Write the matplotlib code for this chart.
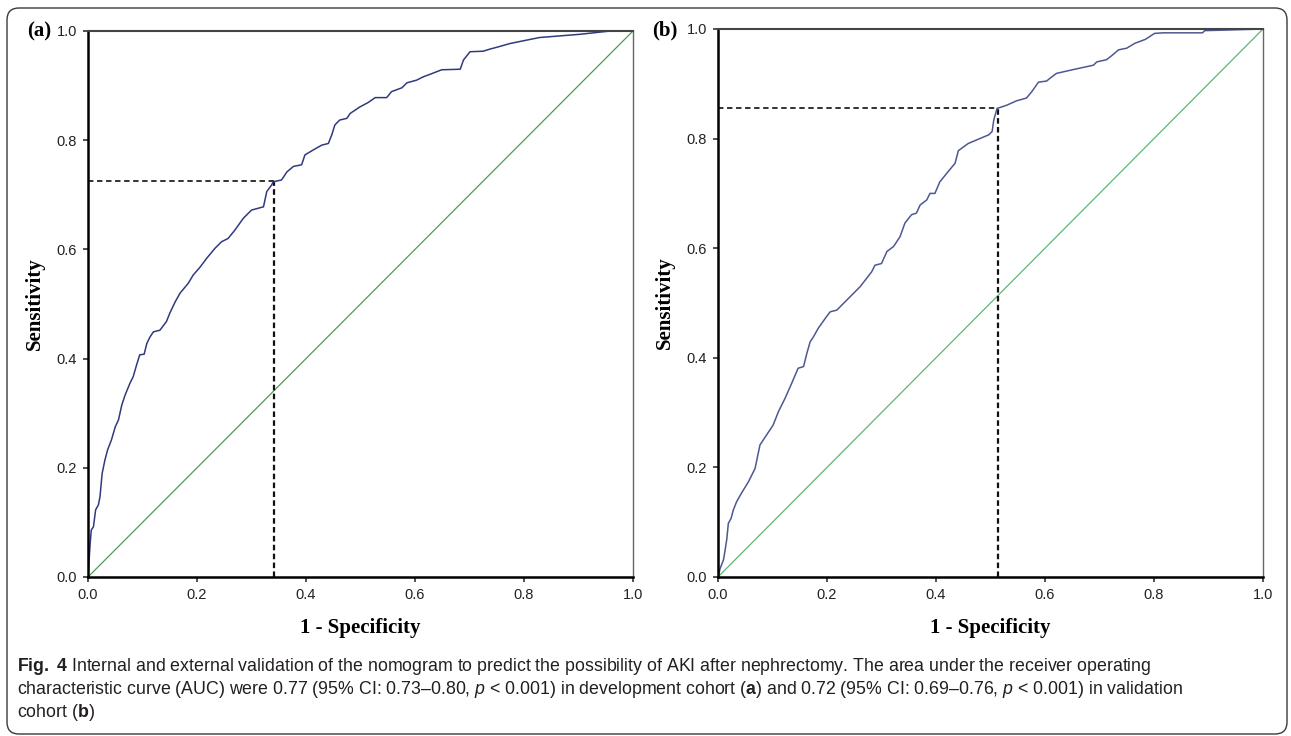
import matplotlib
matplotlib.use("Agg")
import matplotlib.pyplot as plt
from matplotlib.patches import FancyBboxPatch
from matplotlib.transforms import IdentityTransform

W, H = 1291, 736

# (a) development cohort
fpr_a = [0.0, 0.004, 0.006, 0.010, 0.014, 0.019, 0.022, 0.026, 0.031, 0.036, 0.043,
         0.050, 0.056, 0.062, 0.068, 0.077, 0.083, 0.089, 0.095, 0.103, 0.108, 0.114,
         0.120, 0.132, 0.144, 0.150, 0.160, 0.169, 0.184, 0.193, 0.206, 0.218, 0.233,
         0.245, 0.257, 0.270, 0.285, 0.300, 0.322, 0.328, 0.337, 0.340, 0.355, 0.365,
         0.377, 0.392, 0.398, 0.413, 0.429, 0.441, 0.447, 0.453, 0.462, 0.475, 0.481,
         0.499, 0.514, 0.527, 0.548, 0.557, 0.576, 0.585, 0.603, 0.615, 0.631, 0.649,
         0.683, 0.689, 0.701, 0.725, 0.738, 0.753, 0.774, 0.828, 0.903, 0.949, 0.960, 1.0]
tpr_a = [0.0, 0.062, 0.086, 0.092, 0.123, 0.132, 0.147, 0.190, 0.214, 0.233, 0.251,
         0.275, 0.288, 0.315, 0.333, 0.355, 0.367, 0.388, 0.407, 0.408, 0.428, 0.440,
         0.449, 0.452, 0.468, 0.483, 0.504, 0.520, 0.538, 0.553, 0.568, 0.584, 0.602,
         0.614, 0.620, 0.636, 0.657, 0.672, 0.678, 0.706, 0.718, 0.724, 0.727, 0.742,
         0.752, 0.755, 0.773, 0.782, 0.791, 0.794, 0.809, 0.828, 0.837, 0.840, 0.849,
         0.861, 0.869, 0.878, 0.878, 0.889, 0.896, 0.905, 0.910, 0.916, 0.922, 0.929,
         0.930, 0.947, 0.962, 0.963, 0.967, 0.971, 0.977, 0.988, 0.994, 0.999, 1.0, 1.0]

# (b) validation cohort
fpr_b = [0.0, 0.004, 0.010, 0.013, 0.016, 0.019, 0.024, 0.028, 0.034, 0.043, 0.056,
         0.068, 0.077, 0.089, 0.101, 0.111, 0.123, 0.135, 0.147, 0.157, 0.163, 0.169,
         0.175, 0.184, 0.199, 0.206, 0.218, 0.236, 0.261, 0.282, 0.288, 0.300, 0.310,
         0.322, 0.334, 0.343, 0.355, 0.364, 0.371, 0.383, 0.389, 0.398, 0.407, 0.420,
         0.435, 0.441, 0.459, 0.478, 0.497, 0.503, 0.506, 0.512, 0.530, 0.548, 0.566,
         0.576, 0.588, 0.603, 0.609, 0.621, 0.652, 0.689, 0.695, 0.713, 0.722, 0.735,
         0.750, 0.765, 0.784, 0.801, 0.817, 0.889, 0.893, 1.0]
tpr_b = [0.0, 0.016, 0.031, 0.049, 0.068, 0.098, 0.107, 0.122, 0.137, 0.153, 0.174,
         0.198, 0.241, 0.259, 0.277, 0.302, 0.326, 0.353, 0.381, 0.384, 0.408, 0.429,
         0.438, 0.454, 0.475, 0.484, 0.487, 0.505, 0.530, 0.557, 0.569, 0.572, 0.594,
         0.603, 0.621, 0.646, 0.661, 0.664, 0.679, 0.688, 0.700, 0.700, 0.721, 0.737,
         0.755, 0.778, 0.791, 0.799, 0.807, 0.813, 0.834, 0.855, 0.861, 0.869, 0.874,
         0.886, 0.903, 0.905, 0.910, 0.919, 0.926, 0.934, 0.940, 0.944, 0.951, 0.962,
         0.965, 0.974, 0.981, 0.992, 0.993, 0.993, 0.997, 1.0]

cutoff_a = (0.341, 0.725)
cutoff_b = (0.513, 0.856)

ticks = [0.0, 0.2, 0.4, 0.6, 0.8, 1.0]
tick_labels = ["0.0", "0.2", "0.4", "0.6", "0.8", "1.0"]

caption_lines = [
    r"$\mathbf{Fig.\ 4}$ Internal and external validation of the nomogram to predict the possibility of AKI after nephrectomy. The area under the receiver operating",
    r"characteristic curve (AUC) were 0.77 (95% CI: 0.73–0.80, $\mathit{p}$ < 0.001) in development cohort ($\mathbf{a}$) and 0.72 (95% CI: 0.69–0.76, $\mathit{p}$ < 0.001) in validation",
    r"cohort ($\mathbf{b}$)",
]
caption_widths = [1258, 1163]  # pixel widths of the first two lines

plt.rcParams["mathtext.fontset"] = "custom"
plt.rcParams["mathtext.rm"] = "Liberation Sans"
plt.rcParams["mathtext.it"] = "Liberation Sans:italic"
plt.rcParams["mathtext.bf"] = "Liberation Sans:bold"

SERIF = ["Liberation Serif", "DejaVu Serif"]
SANS = ["Liberation Sans", "DejaVu Sans"]

fig = plt.figure(figsize=(W / 100, H / 100), dpi=100)


def px_axes(x0, y0, x1, y1):
    return fig.add_axes([x0 / W, 1 - y1 / H, (x1 - x0) / W, (y1 - y0) / H])


def draw_roc(ax, fpr, tpr, cut, curve_color, diag_color):
    ax.plot([0, 1], [0, 1], color=diag_color, lw=0.9)
    ax.plot([0, cut[0]], [cut[1], cut[1]], ls=(0, (3, 2)), color="#222222", lw=1.3)
    ax.plot([cut[0], cut[0]], [0, cut[1]], ls=(0, (2.5, 1.5)), color="#111111", lw=1.6)
    ax.plot(fpr, tpr, color=curve_color, lw=1.1)
    ax.set_xlim(0, 1)
    ax.set_ylim(0, 1)
    ax.set_xticks(ticks)
    ax.set_xticklabels(tick_labels)
    ax.set_yticks(ticks)
    ax.set_yticklabels(tick_labels)
    ax.tick_params(direction="out", length=3.6, width=1.1, pad=4.5,
                   labelsize=10.5, colors="#222222")
    for lab in ax.get_xticklabels() + ax.get_yticklabels():
        lab.set_family(SANS)
    ax.spines["left"].set_linewidth(1.8)
    ax.spines["bottom"].set_linewidth(1.8)
    ax.spines["top"].set_linewidth(1.5)
    ax.spines["top"].set_color("#444444")
    ax.spines["right"].set_linewidth(1.0)
    ax.spines["right"].set_color("#666666")
    ax.set_xlabel("1 - Specificity", family=SERIF, fontweight="bold", fontsize=15)
    ax.set_ylabel("Sensitivity", family=SERIF, fontweight="bold", fontsize=15)
    ax.xaxis.set_label_coords(0.5, -0.093)
    ax.yaxis.set_label_coords(-0.097, 0.5)
    ax.xaxis.label.set_va("center")
    ax.yaxis.label.set_va("center")


ax_a = px_axes(88, 31, 633, 577)
draw_roc(ax_a, fpr_a, tpr_a, cutoff_a, "#313a7c", "#4c9a5c")
ax_b = px_axes(718, 29, 1263, 577)
draw_roc(ax_b, fpr_b, tpr_b, cutoff_b, "#4d5891", "#5cb872")

fig.text(27 / W, 1 - 31 / H, "(a)", family=SERIF, fontweight="bold", fontsize=15,
         ha="left", va="center")
fig.text(652 / W, 1 - 30 / H, "(b)", family=SERIF, fontweight="bold", fontsize=15,
         ha="left", va="center")

# caption, sized so the lines fit the widths they have in the figure
renderer = fig.canvas.get_renderer()
cap_size = 20
for line, target in zip(caption_lines[:2], caption_widths):
    probe = fig.text(0, 0, line, family=SANS, fontsize=12)
    w12 = probe.get_window_extent(renderer).width
    probe.remove()
    cap_size = min(cap_size, 12 * target / w12)
for i, line in enumerate(caption_lines):
    fig.text(17 / W, 1 - (671 + 23 * i) / H, line, family=SANS, fontsize=cap_size,
             color="#231f20", ha="left", va="baseline")

# rounded frame around the whole figure
frame = FancyBboxPatch((7, 2), 1280, 726, boxstyle="round,pad=0,rounding_size=12",
                       transform=IdentityTransform(), fill=False,
                       edgecolor="#3a3a3a", lw=1.0)
fig.patches.append(frame)

fig.savefig("out.png", dpi=100)
